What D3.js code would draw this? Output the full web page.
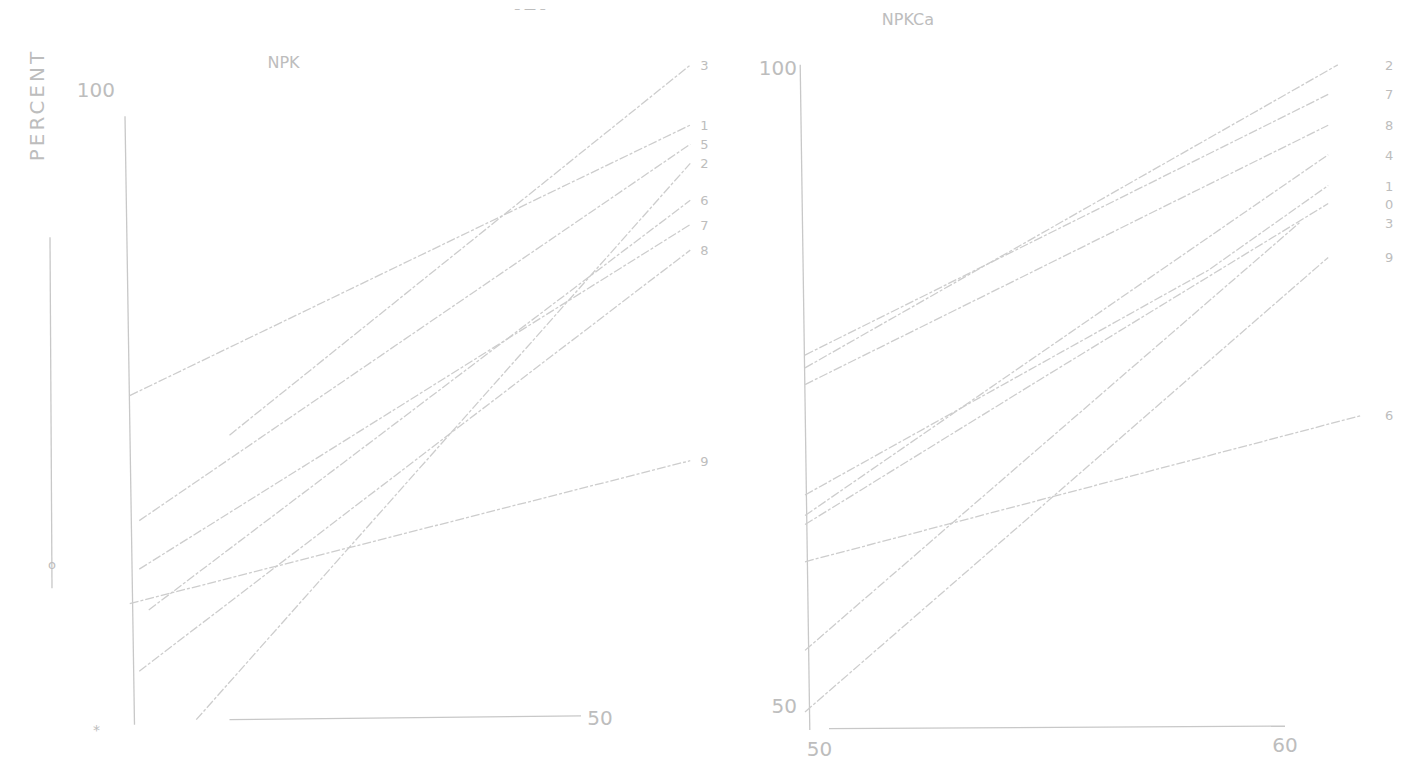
<!DOCTYPE html>
<head>
<meta charset="utf-8">
<script src="https://d3js.org/d3.v7.min.js"></script>
<style>
body { margin: 0; background: #fff; }
text { font-family: "DejaVu Sans", sans-serif; fill: #bdbdbd; }
.ln { fill: none; stroke: #cdcdcd; stroke-width: 1.3; stroke-dasharray: 9 2 3 2; }
.ax { stroke: #c8c8c8; stroke-width: 1.3; fill: none; }
</style>
</head>
<body>
<svg id="chart" width="1406" height="781"></svg>
<script>
// left panel (NPK): start [x, y] and end [x, y] per line
const leftLabels = ["3", "1", "5", "2", "6", "7", "8", "9"];
const leftStart  = [[42.2, 73.5], [40.1, 76.6], [40.3, 66.8], [41.5, 51.2], [40.5, 59.8], [40.3, 63.0], [40.3, 55.0], [40.1, 60.3]];
const leftEnd    = [[51.9, 102.5], [51.9, 97.8], [51.9, 96.3], [51.9, 94.8], [51.9, 91.9], [51.9, 90.0], [51.9, 88.0], [51.9, 71.5]];

// right panel (NPKCa): some lines have a bend in the middle
const rightLabels = ["2", "7", "8", "4", "1", "0", "3", "9", "6"];
const rightLines = [
  [[50, 76.8], [61.1, 100.4]],
  [[50, 77.8], [60.9, 98.1]],
  [[50, 75.5], [60.9, 95.7]],
  [[50, 65.3], [60.9, 93.4]],
  [[50, 66.9], [58.4, 84.4], [60.9, 91.0]],
  [[50, 64.6], [54.9, 75.9], [60.9, 89.6]],
  [[50, 54.8], [60.3, 88.1]],
  [[50, 50.0], [60.9, 85.4]],
  [[50, 61.7], [61.6, 73.1]]
];

const svg = d3.select("#chart");

// left scales
const xL = d3.scaleLinear().domain([40, 50]).range([125, 600]);
const yL = d3.scaleLinear().domain([50, 100]).range([735, 97]);
// right scales
const xR = d3.scaleLinear().domain([50, 60]).range([805, 1285]);
const yR = d3.scaleLinear().domain([50, 100]).range([712, 70]);

const line = (x, y) => d3.line().x(d => x(d[0])).y(d => y(d[1]));

// ---- left panel
const gL = svg.append("g");
gL.append("line").attr("class", "ax")
  .attr("x1", xL(40)).attr("x2", xL(40.2))
  .attr("y1", yL(98.5)).attr("y2", yL(50.8));
gL.append("line").attr("class", "ax")
  .attr("x1", xL(42.2)).attr("x2", xL(49.6))
  .attr("y1", yL(51.2)).attr("y2", yL(51.5));
gL.append("text").attr("x", xL(40) - 10).attr("y", yL(100)).attr("text-anchor", "end")
  .attr("font-size", 20).text("100");
gL.append("text").attr("x", xL(50)).attr("y", yL(50.8)).attr("text-anchor", "middle")
  .attr("font-size", 20).text("50");
gL.append("text").attr("x", xL(39.4)).attr("y", yL(50)).attr("text-anchor", "middle")
  .attr("font-size", 14).text("*");
gL.append("text").attr("x", xL(43)).attr("y", 68).attr("font-size", 16).text("NPK");

gL.selectAll(".ln").data(leftStart).enter().append("path")
  .attr("class", "ln")
  .attr("d", (d, i) => line(xL, yL)([d, leftEnd[i]]));
gL.selectAll(".lab").data(leftEnd).enter().append("text")
  .attr("x", d => xL(d[0]) + 10).attr("y", d => yL(d[1]) + 5)
  .attr("font-size", 13).text((d, i) => leftLabels[i]);

// axis title on the far left
svg.append("text").attr("transform", "translate(44,105) rotate(-90)")
  .attr("text-anchor", "middle").attr("font-size", 20).attr("letter-spacing", 3)
  .text("PERCENT");
svg.append("line").attr("class", "ax").attr("x1", 50).attr("x2", 52)
  .attr("y1", yL(89)).attr("y2", yL(61.5));
svg.append("text").attr("x", 52).attr("y", yL(63)).attr("text-anchor", "middle")
  .attr("font-size", 13).text("o");

// ---- right panel
const gR = svg.append("g");
gR.append("line").attr("class", "ax")
  .attr("x1", xR(49.9)).attr("x2", xR(50.1))
  .attr("y1", yR(100.4)).attr("y2", yR(48.6));
gR.append("line").attr("class", "ax")
  .attr("x1", xR(50.5)).attr("x2", xR(60))
  .attr("y1", yR(48.7)).attr("y2", yR(48.9));
gR.append("text").attr("x", xR(50) - 8).attr("y", yR(99.6)).attr("text-anchor", "end")
  .attr("font-size", 20).text("100");
gR.append("text").attr("x", xR(50) - 8).attr("y", yR(49.9)).attr("text-anchor", "end")
  .attr("font-size", 20).text("50");
gR.append("text").attr("x", xR(50.3)).attr("y", yR(46.6)).attr("text-anchor", "middle")
  .attr("font-size", 20).text("50");
gR.append("text").attr("x", xR(60)).attr("y", yR(46.9)).attr("text-anchor", "middle")
  .attr("font-size", 20).text("60");
gR.append("text").attr("x", xR(51.6)).attr("y", 25).attr("font-size", 16).text("NPKCa");
svg.append("text").attr("x", 530).attr("y", 13).attr("text-anchor", "middle")
  .attr("font-size", 12).text("– — –");

gR.selectAll(".ln").data(rightLines).enter().append("path")
  .attr("class", "ln")
  .attr("d", line(xR, yR));
gR.selectAll(".lab").data(rightLines).enter().append("text")
  .attr("x", 1385).attr("y", d => yR(d[d.length - 1][1]) + 5)
  .attr("font-size", 13).text((d, i) => rightLabels[i]);
</script>
</body>
